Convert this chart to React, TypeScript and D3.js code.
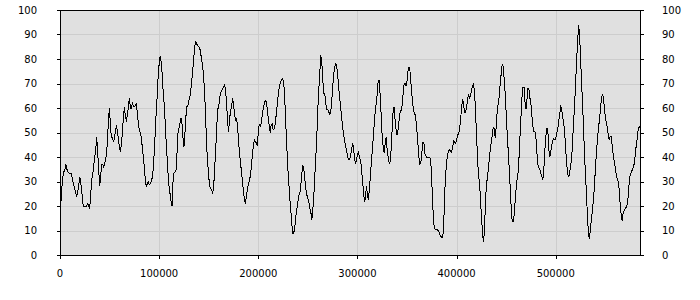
import React from "react";
import * as d3 from "d3";

// Series: one value every 1000 units of x, starting at 0
const xStep = 1000;
const values: number[] = [
  17, 22, 28, 32, 34, 35, 37, 35, 34, 33.5,
  33, 33.5, 32, 30, 28.5, 27, 25, 24, 26, 29,
  32, 29, 26, 21, 20, 20, 20, 20, 21, 20,
  19, 25, 30.6, 33, 36.5, 40, 43, 48, 42, 35,
  28, 32, 37, 37, 36, 37, 39, 41.5, 48, 56,
  60, 51, 48, 48, 46, 48, 51, 53, 50, 47, 44,
  42, 46, 50, 57, 60.5, 56, 55, 57, 60.5, 64,
  60, 60, 62, 61, 60.5, 61, 62, 58, 54, 51,
  50, 48, 44, 40, 36, 31, 28, 29, 30, 28.6,
  29, 30, 31.5, 34.7, 41.5, 49.7, 58, 64.6, 72.8, 78,
  81, 79, 74, 67, 62, 55, 47, 40, 33, 28,
  25, 21.8, 20, 30, 33.5, 34, 34.7, 41.5, 49.7, 51.7,
  53.7, 56, 53.7, 48, 44, 49.7, 56.5, 60.5, 61, 63,
  64.5, 67.5, 71.5, 76, 81, 85.5, 87, 86, 85.5, 85,
  84.4, 82, 79.5, 76.5, 72, 65, 55, 44, 37.4, 32,
  28, 27, 26.5, 25, 28, 35, 43, 51, 60, 60, 64,
  66, 67, 68, 68.7, 69.4, 67.3, 62, 55, 50.3, 55,
  59, 60.5, 64, 62, 57.5, 55, 55.5, 53, 47, 42,
  38, 34, 30, 26, 23, 21, 24, 27, 29, 30,
  32.5, 36, 40.5, 44.5, 47, 46, 46, 44.5, 50, 53.5,
  52.5, 54, 57, 60, 61.5, 63, 62.5, 60, 56, 53,
  50, 53, 53.5, 51, 51.5, 53.2, 57, 61, 65, 68,
  70, 71, 72, 71.5, 68.5, 61, 51, 42, 34, 28,
  22, 17, 12, 8.5, 9.5, 12, 16, 19, 22, 24.5,
  25.5, 29, 33.5, 36.5, 35, 30.5, 27, 24.5, 23, 21.5,
  19, 17.5, 14.3, 18.4, 24, 32, 40, 48, 59, 67.3,
  74, 81.6, 79, 72, 66, 66, 62, 59.5, 59.5, 58.5, 57.5,
  58, 62.5, 68, 73.5, 76.5, 78.5, 77, 74, 69, 64.5,
  60.5, 56.5, 52.5, 49, 47, 44.5, 42.5, 40.5, 39, 38.8,
  40.5, 42.5, 45.5, 44, 40, 37, 38.5, 41, 41.8, 40,
  38.8, 36, 30.6, 26.5, 21.8, 23, 28, 25, 22.4, 26.5,
  32, 37.4, 43, 48, 53.7, 59, 62, 66, 71.4, 71.4,
  64.6, 56.5, 48, 44, 41.5, 45.6, 48, 43, 40, 37.4,
  38, 43, 51, 59, 60.5, 55, 51, 49, 51, 55,
  58, 59, 61, 65.5, 69.5, 70, 69, 71, 75, 76.7,
  75, 70, 65, 61, 58.5, 57.5, 55, 50.5, 45.5, 40,
  37, 38, 42, 46, 46, 41.5, 40.5, 39.8, 39.8, 39.8, 39.8,
  38, 30, 20, 13, 10.6, 10.5, 10.5, 10.2, 9.5, 8.5,
  7.8, 7.1, 7, 12, 25, 33, 38, 41, 42.5, 43,
  42.5, 41.8, 44, 46.5, 46, 45.6, 47, 49, 49.3, 51,
  55, 60, 63.5, 62, 58, 58, 60, 63, 65.5, 64,
  65, 67.3, 69, 69.8, 67, 60, 50, 41, 33, 29.6,
  24, 16, 10, 5.5, 9, 20, 28, 31.5, 35, 39,
  43, 46, 49, 52, 51.5, 47.6, 52.4, 59, 62, 64.6,
  70, 74, 78, 77, 72, 66, 58, 50, 43, 36,
  28, 20, 14, 13.5, 16, 21.5, 27, 31, 33.5, 40,
  49, 57, 64.5, 68.5, 68.5, 62.5, 59.5, 63.5, 68, 67.5,
  64, 61.5, 56.5, 52.5, 50.5, 50.5, 48, 42, 37, 35.7, 35,
  33.3, 32, 30.6, 35, 42.5, 48.3, 52, 51, 43, 40,
  42, 45, 46.6, 47.5, 47, 47.5, 49.5, 51.5, 54.5, 57.5,
  60.5, 59.5, 56.5, 54, 50, 43.5, 37.5, 33.5, 31.7, 33.5,
  36.5, 39, 46.5, 54, 61, 69.5, 79, 86, 93.9, 90.5,
  81, 71.4, 62, 52.4, 41.5, 33, 25, 15.6, 8.8, 6.5,
  11, 14.5, 18.5, 22.5, 28, 35, 41.5, 47, 51, 55,
  59, 63.5, 65.5, 64.5, 60.5, 56.5, 54, 52, 49, 47,
  48.5, 48.5, 44.5, 41, 38.3, 35.6, 33, 31, 30, 27,
  20.5, 16.5, 14, 17, 18.2, 18.8, 19.5, 20.5, 23.5, 29,
  32.5, 33.7, 34.5, 35.7, 37, 40, 44, 47, 50.5, 52.4,
  52,
];

const xTicks = [0, 100000, 200000, 300000, 400000, 500000];
const yTicks = [0, 10, 20, 30, 40, 50, 60, 70, 80, 90, 100];

export default function App() {
  const W = 700, H = 300;
  const m = { left: 60, right: 60, top: 10, bottom: 45 };
  const xMax = (values.length - 1) * xStep;
  const x = d3.scaleLinear().domain([0, xMax]).range([m.left, W - m.right]);
  const y = d3.scaleLinear().domain([0, 100]).range([H - m.bottom, m.top]);
  const line = d3
    .line<number>()
    .x((_, i) => x(i * xStep))
    .y((d) => y(d));
  const font = "DejaVu Sans, Verdana, sans-serif";
  const x0 = m.left, x1 = W - m.right, y0 = H - m.bottom, y1 = m.top;
  return (
    <svg
      width={W}
      height={H}
      style={{ position: "absolute", left: 0, top: 0, background: "#fff" }}
      fontFamily={font}
      fontSize={10}
    >
      <rect x={x0} y={y1} width={x1 - x0} height={y0 - y1} fill="#e0e0e0" />
      <g stroke="#cdcdcd" strokeWidth={1} shapeRendering="crispEdges">
        {yTicks.slice(1, -1).map((t) => (
          <line key={"gy" + t} x1={x0} x2={x1} y1={Math.round(y(t)) + 0.5} y2={Math.round(y(t)) + 0.5} />
        ))}
        {xTicks.slice(1).map((t) => (
          <line key={"gx" + t} x1={Math.round(x(t)) + 0.5} x2={Math.round(x(t)) + 0.5} y1={y1} y2={y0} />
        ))}
      </g>
      <path d={line(values) || ""} fill="none" stroke="#000" strokeWidth={1} shapeRendering="crispEdges" />
      <rect x={x0 + 0.5} y={y1 + 0.5} width={x1 - x0} height={y0 - y1} fill="none" stroke="#000" strokeWidth={1} shapeRendering="crispEdges" />
      <g stroke="#000" strokeWidth={1} shapeRendering="crispEdges">
        {yTicks.map((t) => (
          <g key={"ty" + t}>
            <line x1={x0 - 3} x2={x0} y1={Math.round(y(t)) + 0.5} y2={Math.round(y(t)) + 0.5} />
            <line x1={x1} x2={x1 + 4} y1={Math.round(y(t)) + 0.5} y2={Math.round(y(t)) + 0.5} />
          </g>
        ))}
        {xTicks.map((t) => (
          <line key={"tx" + t} x1={Math.round(x(t)) + 0.5} x2={Math.round(x(t)) + 0.5} y1={y0} y2={y0 + 4} />
        ))}
      </g>
      <g fill="#000">
        {yTicks.map((t) => (
          <text key={"ly" + t} x={37} y={y(t)} dy="0.35em" textAnchor="end">
            {t}
          </text>
        ))}
        {yTicks.map((t) => (
          <text key={"ry" + t} x={662} y={y(t)} dy="0.35em" textAnchor="start">
            {t}
          </text>
        ))}
        {xTicks.map((t) => (
          <text key={"lx" + t} x={x(t)} y={277} textAnchor="middle">
            {t}
          </text>
        ))}
      </g>
    </svg>
  );
}
